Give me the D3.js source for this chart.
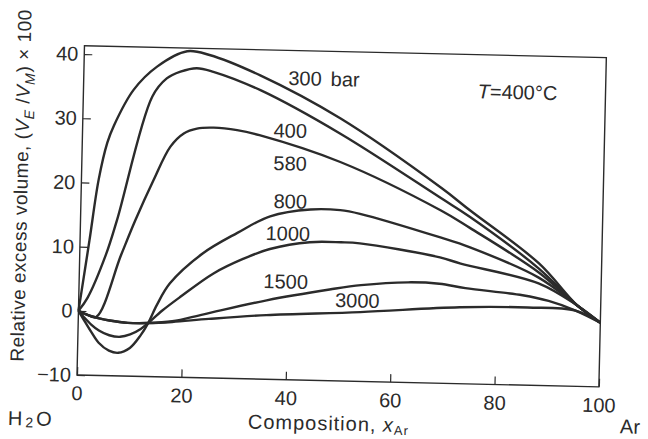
<!DOCTYPE html>
<html>
<head>
<meta charset="utf-8">
<script src="https://cdn.jsdelivr.net/npm/d3@7"></script>
<style>
  body { margin: 0; background: #fff; }
  svg { display: block; font-family: "Liberation Sans", Arial, sans-serif; }
</style>
</head>
<body>
<div id="chart"></div>
<script>
// excess volume curves at T = 400 °C, [x_Ar %, (V_E/V_M) x 100]
const p300 = [[0,0],[0.5,3],[1.8,11],[3.3,20.5],[4.8,26.3],[6,29],[9.6,34.6],[14,38.3],[19.7,40.8],[24,40.3],[33.8,37.3],[49.3,30.9],[69,20.4],[74.6,17],[88,9],[95.5,2.6],[100,0]];
const p400 = [[0,0],[1.65,2],[5,8.8],[7,14.3],[13.2,33.6],[15.9,36.5],[18.5,37.6],[21.6,38.2],[24.8,37.7],[33.9,35],[49.4,28.5],[69,18.8],[74.6,16],[88,8.2],[95.5,2.6],[100,0]];
const p580 = [[0,0],[1.5,-0.5],[3.4,-0.9],[7.9,8.8],[10.5,14.3],[13.8,20.6],[16.9,25.9],[19.4,28],[21.9,28.8],[25.1,29],[29.6,28.7],[33.9,28],[49.5,24.1],[69,16.9],[74.6,14.3],[88,7.6],[95.5,2.6],[100,0]];
const p800 = [[0,0],[1,-1.3],[2.5,-3.2],[4,-4.9],[6,-6.1],[7.8,-6.4],[10,-5.6],[12,-3.6],[13.4,-1.66],[15,1.2],[17.4,4.6],[23.6,9.4],[30.1,12.7],[36.3,15.4],[44,16.6],[49.7,16.6],[53.5,16.1],[69,12.7],[74.6,11.3],[88,6.8],[95.5,2.6],[100,0]];
const p1000 = [[0,0],[1,-0.9],[2.5,-2.1],[4,-3],[6,-3.7],[8.1,-3.9],[10,-3.5],[12,-2.6],[13.4,-1.66],[16,0.3],[19.4,2.5],[25.7,6.3],[31.4,8.7],[36.4,10.3],[44,11.5],[50,11.6],[53.6,11.5],[69,9.6],[73,8.7],[88,5.9],[95.5,2.6],[100,0]];
const p1500 = [[0,0],[1,-0.4],[2.5,-0.8],[4,-1.1],[6,-1.4],[9.5,-1.7],[13.4,-1.66],[18,-1.3],[24,-0.1],[36,2.3],[48,4.2],[54,5],[63,5.6],[69,5.5],[74,4.9],[85,4],[90,3.2],[95.2,1.8],[100,0]];
const p3000 = [[0,0],[1,-0.4],[2.5,-0.8],[4,-1.1],[6,-1.4],[9.5,-1.7],[13.4,-1.66],[18,-1.4],[25,-0.8],[36,0],[54,0.8],[73,1.9],[86,2.1],[95.2,1.8],[100,0]];

const pressures = ["300", "400", "580", "800", "1000", "1500", "3000"];
const xTicks = [0, 20, 40, 60, 80, 100];
const yTicks = [-10, 0, 10, 20, 30, 40];

const series = [p300, p400, p580, p800, p1000, p1500, p3000];
// where each pressure label sits, in data units
const labelAt = [[39.2,35.9],[36.6,27.7],[36.7,22.6],[36.9,16.7],[35.5,11.7],[35.3,4.2],[49.1,1.5]];

const width = 648, height = 439;
const x = d3.scaleLinear().domain([0, 100]).range([77, 599]);
const y = d3.scaleLinear().domain([-10, 40]).range([375, 54]);
const yTop = 41.3;
const ink = "#2b2b2b";

const svg = d3.select("#chart").append("svg")
  .attr("width", width)
  .attr("height", height);

// the scan is turned a little, so the whole figure is turned about the lower left corner
const g = svg.append("g")
  .attr("transform", "rotate(1.3," + x(0) + "," + y(-10) + ")");

g.append("rect")
  .attr("x", x(0))
  .attr("y", y(yTop))
  .attr("width", x(100) - x(0))
  .attr("height", y(-10) - y(yTop))
  .attr("fill", "none")
  .attr("stroke", ink)
  .attr("stroke-width", 1.4);

let xAxis = g.append("g")
  .attr("transform", "translate(0," + y(-10) + ")")
  .call(d3.axisBottom(x).tickValues(xTicks).tickSize(-8).tickSizeOuter(0).tickPadding(11));
let yAxis = g.append("g")
  .attr("transform", "translate(" + x(0) + ",0)")
  .call(d3.axisLeft(y).tickValues(yTicks).tickSize(-8).tickSizeOuter(0).tickPadding(6));

[xAxis, yAxis].forEach(a => {
  a.select(".domain").remove();
  a.selectAll("line").attr("stroke", ink).attr("stroke-width", 1.2);
  a.selectAll("text")
    .attr("fill", ink)
    .style("font-size", "20px")
    .style("font-family", "Liberation Sans, Arial, sans-serif");
});

let line = d3.line()
  .x(d => x(d[0]))
  .y(d => y(d[1]))
  .curve(d3.curveCatmullRom.alpha(0.5));

g.selectAll(".curve")
  .data(series)
  .enter()
  .append("path")
  .attr("class", "curve")
  .attr("d", line)
  .attr("fill", "none")
  .attr("stroke", ink)
  .attr("stroke-width", 2.4)
  .attr("stroke-linejoin", "round");

let labels = g.selectAll(".plabel")
  .data(pressures)
  .enter()
  .append("text")
  .attr("class", "plabel")
  .attr("x", (d, i) => x(labelAt[i][0]))
  .attr("y", (d, i) => y(labelAt[i][1]))
  .attr("fill", ink)
  .style("font-size", "20px")
  .text(d => d);
labels.filter((d, i) => i === 0)
  .append("tspan")
  .attr("dx", 9)
  .text("bar");

let tLabel = g.append("text")
  .attr("x", x(75.5))
  .attr("y", y(34.5))
  .attr("fill", ink)
  .style("font-size", "20px");
tLabel.append("tspan").style("font-style", "italic").text("T");
tLabel.append("tspan").text("=400°C");

// y title
let yTitle = g.append("text")
  .attr("transform", "translate(23.2,187) rotate(-90)")
  .attr("text-anchor", "middle")
  .attr("textLength", 352)
  .attr("lengthAdjust", "spacing")
  .attr("fill", ink)
  .style("font-size", "19px");
yTitle.append("tspan").text("Relative excess volume, (");
yTitle.append("tspan").style("font-style", "italic").text("V");
yTitle.append("tspan").style("font-style", "italic").style("font-size", "14px").attr("dy", 5).text("E");
yTitle.append("tspan").attr("dy", -5).text(" /");
yTitle.append("tspan").style("font-style", "italic").text("V");
yTitle.append("tspan").style("font-style", "italic").style("font-size", "14px").attr("dy", 5).text("M");
yTitle.append("tspan").attr("dy", -5).text(") × 100");

// x title and the two end members
let xTitle = g.append("text")
  .attr("x", 329)
  .attr("y", 424.5)
  .attr("text-anchor", "middle")
  .attr("textLength", 160)
  .attr("lengthAdjust", "spacing")
  .attr("fill", ink)
  .style("font-size", "20px");
xTitle.append("tspan").text("Composition, ");
xTitle.append("tspan").style("font-style", "italic").text("x");
xTitle.append("tspan").style("font-size", "13px").attr("dy", 3).text("Ar");

let h2o = g.append("text")
  .attr("x", 9)
  .attr("y", 426.5)
  .attr("fill", ink)
  .style("font-size", "20px")
  .style("letter-spacing", "3px");
h2o.append("tspan").text("H");
h2o.append("tspan").style("font-size", "14px").attr("dy", 2).text("2");
h2o.append("tspan").attr("dy", -2).text("O");

g.append("text")
  .attr("x", 621)
  .attr("y", 421)
  .attr("fill", ink)
  .style("font-size", "20px")
  .text("Ar");
</script>
</body>
</html>
